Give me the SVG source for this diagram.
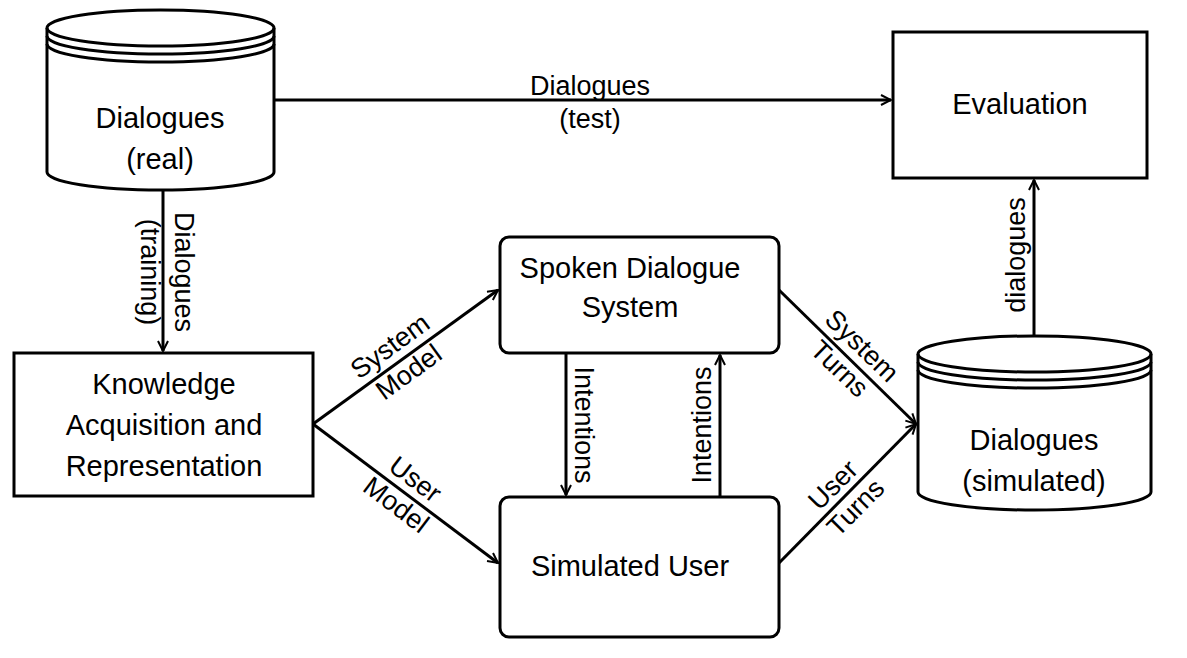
<svg xmlns="http://www.w3.org/2000/svg" width="1187" height="658" viewBox="0 0 1187 658">
<style>
.s{fill:#fff;stroke:#000;stroke-width:3}
.l{fill:none;stroke:#000;stroke-width:3}
text{font-family:"Liberation Sans",Arial,sans-serif;font-size:29px;text-anchor:middle;fill:#000}
.e{font-size:27px}
</style>
<defs>
<marker id="a" viewBox="0 0 12 12" refX="11" refY="6" markerWidth="12" markerHeight="12" markerUnits="userSpaceOnUse" orient="auto"><path d="M1,1 L11,6 L1,11" fill="none" stroke="#000" stroke-width="2"/></marker>
</defs>
<rect width="1187" height="658" fill="#fff"/>
<g id="real">
<path class="s" d="M47,28 A113,18 0 0 1 274,28 V172 A113,18 0 0 1 47,172 Z"/>
<path class="l" d="M47,28 A113,18 0 0 0 274,28 M47,36 A113,18 0 0 0 274,36 M47,44 A113,18 0 0 0 274,44"/>
<text x="160" y="128">Dialogues</text><text x="160" y="169">(real)</text>
</g>
<g id="sim">
<path class="s" d="M918,354 A116,18 0 0 1 1151,354 V492 A116,18 0 0 1 918,492 Z"/>
<path class="l" d="M918,354 A116,18 0 0 0 1151,354 M918,362 A116,18 0 0 0 1151,362 M918,370 A116,18 0 0 0 1151,370"/>
<text x="1034" y="450">Dialogues</text><text x="1034" y="491">(simulated)</text>
</g>
<g id="eval"><rect class="s" x="893" y="32" width="254" height="146"/><text x="1020" y="114">Evaluation</text></g>
<g id="kar"><rect class="s" x="14" y="353" width="299" height="143"/>
<text x="164" y="394">Knowledge</text><text x="164" y="435">Acquisition and</text><text x="164" y="476">Representation</text></g>
<g id="sds"><rect class="s" x="500" y="237" width="279" height="116" rx="9"/><text x="630" y="278">Spoken Dialogue</text><text x="630" y="317">System</text></g>
<g id="su"><rect class="s" x="500" y="497" width="279" height="140" rx="9"/><text x="630" y="576">Simulated User</text></g>
<g id="connectors">
<path class="l" d="M274,100 H891" marker-end="url(#a)"/>
<path class="l" d="M163,190 V351" marker-end="url(#a)"/>
<path class="l" d="M1034,336 V180" marker-end="url(#a)"/>
<path class="l" d="M313,424 L498,290" marker-end="url(#a)"/>
<path class="l" d="M313,424 L498,563" marker-end="url(#a)"/>
<path class="l" d="M779,290 L916,424" marker-end="url(#a)"/>
<path class="l" d="M779,563 L916,424" marker-end="url(#a)"/>
<path class="l" d="M566,353 V495" marker-end="url(#a)"/>
<path class="l" d="M720,497 V355" marker-end="url(#a)"/>
<text class="e" x="590" y="95">Dialogues</text><text class="e" x="590" y="128">(test)</text>
<text class="e" transform="translate(163,272) rotate(90)" x="0" y="-12">Dialogues</text>
<text class="e" transform="translate(163,272) rotate(90)" x="0" y="22">(training)</text>
<text class="e" transform="translate(1034,255) rotate(-90)" x="0" y="-9">dialogues</text>
<text class="e" transform="translate(400,360) rotate(-36)" x="0" y="-8">System</text>
<text class="e" transform="translate(400,360) rotate(-36)" x="0" y="24">Model</text>
<text class="e" transform="translate(405,493) rotate(37)" x="0" y="-8">User</text>
<text class="e" transform="translate(405,493) rotate(37)" x="0" y="24">Model</text>
<text class="e" transform="translate(850,358) rotate(44)" x="0" y="-8">System</text>
<text class="e" transform="translate(850,358) rotate(44)" x="0" y="24">Turns</text>
<text class="e" transform="translate(845,497) rotate(-45)" x="0" y="-8">User</text>
<text class="e" transform="translate(845,497) rotate(-45)" x="0" y="24">Turns</text>
<text class="e" transform="translate(566,425) rotate(90)" x="0" y="-9">Intentions</text>
<text class="e" transform="translate(720,425) rotate(-90)" x="0" y="-9">Intentions</text>
</g>
</svg>
